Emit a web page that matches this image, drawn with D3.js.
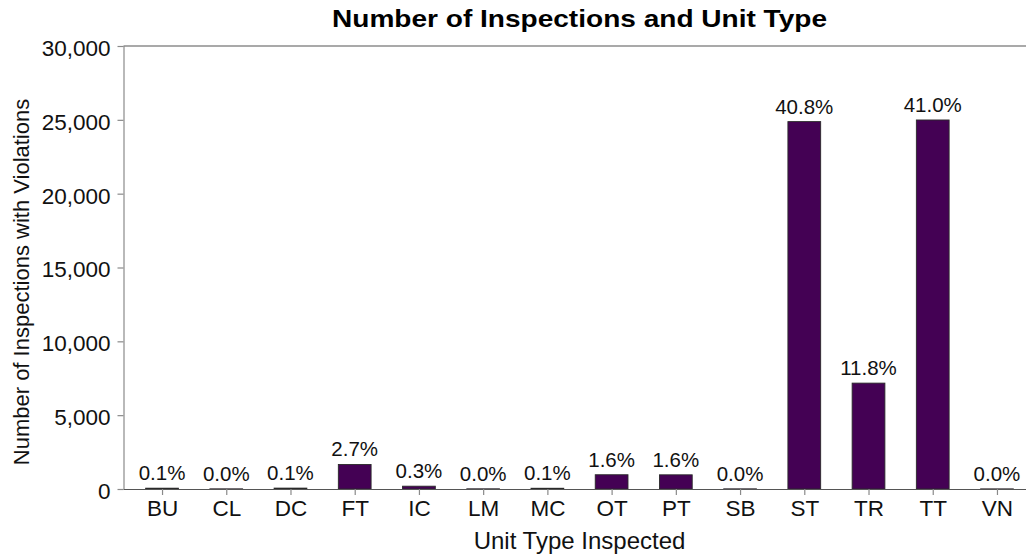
<!DOCTYPE html>
<html>
<head>
<meta charset="utf-8">
<script src="https://cdn.jsdelivr.net/npm/d3@7"></script>
<style>
  html, body { margin: 0; padding: 0; background: #ffffff; }
  svg { display: block; font-family: "Liberation Sans", Arial, sans-serif; }
</style>
</head>
<body>
<svg id="chart" width="1026" height="556"></svg>
<script>
// ---- data ----
const categories = ["BU","CL","DC","FT","IC","LM","MC","OT","PT","SB","ST","TR","TT","VN"];
const counts     = [55, 10, 60, 1660, 190, 12, 50, 965, 960, 10, 24880, 7170, 24990, 8];
const pctLabels  = ["0.1%","0.0%","0.1%","2.7%","0.3%","0.0%","0.1%","1.6%","1.6%","0.0%","40.8%","11.8%","41.0%","0.0%"];
const yTicks     = [0, 5000, 10000, 15000, 20000, 25000, 30000];

const titleText = "Number of Inspections and Unit Type";
const xTitle = "Unit Type Inspected";
const yTitle = "Number of Inspections with Violations";

// ---- layout ----
const W = 1026, H = 556;
const panelLeft = 123.5, panelRight = 1035.5, panelTop = 46, panelBottom = 489;

const svg = d3.select("#chart");

const step = (panelRight - panelLeft) / (categories.length - 1 + 1.2);
const xc = d3.scalePoint().domain(categories)
  .range([panelLeft + 0.6 * step, panelRight - 0.6 * step]);
const barW = step * 0.51;

const y = d3.scaleLinear().domain([0, 30000]).range([panelBottom, panelTop]);

const data = categories.map((c, i) => ({ cat: c, v: counts[i], lab: pctLabels[i] }));

// bars
svg.append("g").selectAll("rect").data(data).join("rect")
  .attr("x", d => xc(d.cat) - barW / 2)
  .attr("width", barW)
  .attr("y", d => y(d.v))
  .attr("height", d => Math.max(0.15, y(0) - y(d.v)))
  .attr("fill", "#440154")
  .attr("stroke", "#2a2a2a")
  .attr("stroke-width", 0.9);

// value labels
svg.append("g").selectAll("text").data(data).join("text")
  .attr("x", d => xc(d.cat))
  .attr("y", d => y(d.v) - 8)
  .attr("text-anchor", "middle")
  .attr("font-size", 20.5)
  .attr("fill", "#111")
  .text(d => d.lab);

// top line
svg.append("line")
  .attr("x1", panelLeft).attr("x2", W)
  .attr("y1", panelTop).attr("y2", panelTop)
  .attr("stroke", "#555").attr("stroke-width", 1.2);

// x axis
const xAxis = svg.append("g")
  .attr("transform", `translate(0,${panelBottom})`)
  .call(d3.axisBottom(xc).tickSize(6).tickPadding(5));
xAxis.select(".domain").attr("stroke", "#555").attr("stroke-width", 1.2)
  .attr("d", `M${panelLeft},0.5H${W}`);
xAxis.selectAll(".tick line").attr("stroke", "#8a8a8a").attr("stroke-width", 1.2);
xAxis.selectAll(".tick text").attr("font-size", 22.5).attr("fill", "#111")
  .attr("font-family", "Liberation Sans, Arial, sans-serif");

// y axis
const yAxis = svg.append("g")
  .attr("transform", `translate(${panelLeft},0)`)
  .call(d3.axisLeft(y).tickValues(yTicks).tickFormat(d3.format(",")).tickSize(6).tickPadding(7));
yAxis.select(".domain").attr("stroke", "#8a8a8a").attr("stroke-width", 1.2)
  .attr("d", `M0.5,${panelBottom}V${panelTop}`);
yAxis.selectAll(".tick line").attr("stroke", "#8a8a8a").attr("stroke-width", 1.2);
yAxis.selectAll(".tick text").attr("font-size", 22.5).attr("fill", "#111")
  .attr("dy", "0.42em")
  .attr("font-family", "Liberation Sans, Arial, sans-serif");

// titles
svg.append("text")
  .attr("x", (panelLeft + panelRight) / 2).attr("y", 27)
  .attr("text-anchor", "middle")
  .attr("font-size", 24).attr("font-weight", "bold").attr("fill", "#000")
  .attr("textLength", 495).attr("lengthAdjust", "spacingAndGlyphs")
  .text(titleText);

svg.append("text")
  .attr("x", (panelLeft + panelRight) / 2).attr("y", 549)
  .attr("text-anchor", "middle")
  .attr("font-size", 24).attr("fill", "#111")
  .text(xTitle);

svg.append("text")
  .attr("transform", `translate(29,282) rotate(-90)`)
  .attr("text-anchor", "middle")
  .attr("font-size", 22).attr("fill", "#111")
  .text(yTitle);
</script>
</body>
</html>
